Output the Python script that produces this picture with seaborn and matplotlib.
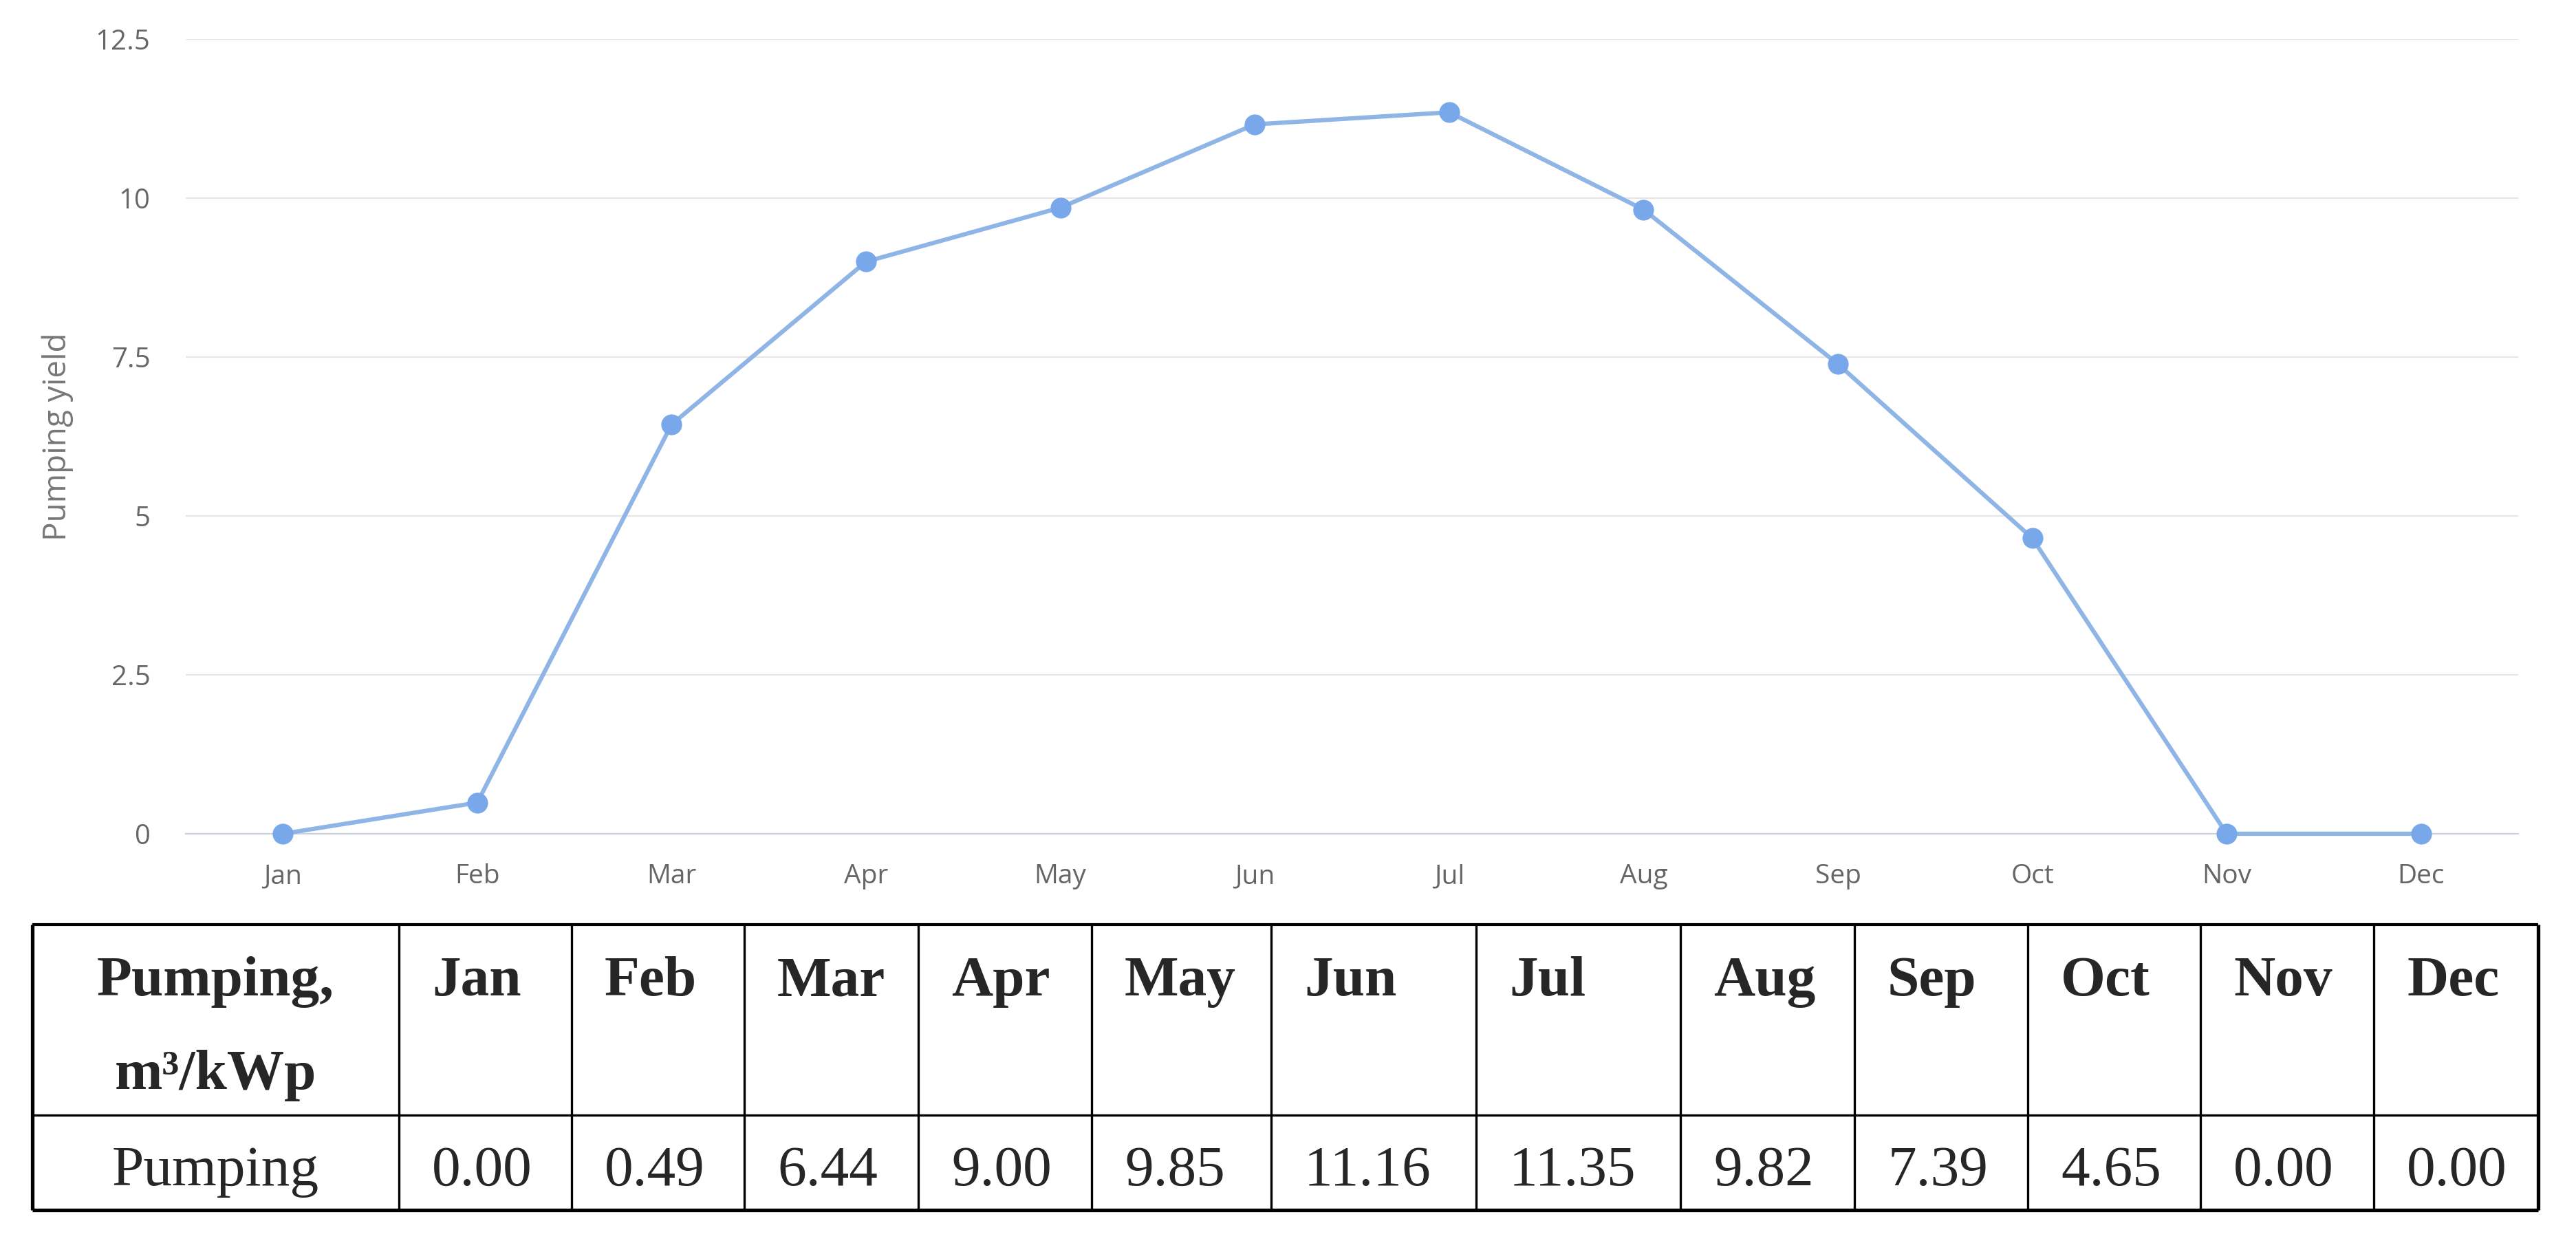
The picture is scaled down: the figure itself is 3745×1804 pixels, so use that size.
import numpy as np
import pandas as pd
import matplotlib
matplotlib.use('Agg')
import matplotlib.pyplot as plt
import seaborn as sns

months = ['Jan', 'Feb', 'Mar', 'Apr', 'May', 'Jun', 'Jul', 'Aug', 'Sep', 'Oct', 'Nov', 'Dec']
pumping = [0.00, 0.49, 6.44, 9.00, 9.85, 11.16, 11.35, 9.82, 7.39, 4.65, 0.00, 0.00]
y_ticks = [0, 2.5, 5, 7.5, 10, 12.5]
y_tick_labels = ['0', '2.5', '5', '7.5', '10', '12.5']
y_title = 'Pumping yield'
header_label = ['Pumping,', 'm³/kWp']
row_label = 'Pumping'

# Layout (figure pixels)
W, H = 3745, 1804
col_edges = [47, 580, 831, 1082, 1335, 1587, 1848, 2146, 2443, 2696, 2948, 3199, 3451, 3690]
tab_top, tab_mid, tab_bot = 1344, 1621, 1759

line_color = '#8fb4e6'
marker_color = '#78a8ea'
grid_color = '#e6e6e6'
axis_color = '#c9d0dc'
text_gray = '#666666'

sns.set_theme(style='white')
plt.rcParams['font.family'] = ['Open Sans', 'DejaVu Sans']

fig = plt.figure(figsize=(W / 100, H / 100), dpi=100)
fig.patch.set_facecolor('white')

# --- Line chart ---
ax = fig.add_axes([270 / W, (H - 1212) / H, (3661 - 270) / W, (1212 - 57) / H])
df = pd.DataFrame({'month': months, 'yield': pumping})
sns.lineplot(data=df, x='month', y='yield', ax=ax, sort=False,
             color=line_color, linewidth=4.5, marker='o', markersize=21,
             markerfacecolor=marker_color, markeredgecolor=marker_color,
             clip_on=False, zorder=5)

ax.set_xlim(-0.5, len(months) - 0.5)
ax.set_ylim(y_ticks[0], y_ticks[-1])
ax.set_yticks(y_ticks)
ax.set_yticklabels(y_tick_labels)
ax.set_xticks(range(len(months)))
ax.set_xticklabels(months)
ax.set_xticks(np.arange(-0.5, len(months), 1), minor=True)

ax.set_axisbelow(True)
ax.yaxis.grid(True, color=grid_color, linewidth=1.6)
ax.xaxis.grid(False)
for side in ['top', 'right', 'left']:
    ax.spines[side].set_visible(False)
ax.spines['bottom'].set_color(axis_color)
ax.spines['bottom'].set_linewidth(1.6)

ax.tick_params(axis='y', length=0, pad=37, labelsize=29, labelcolor=text_gray)
ax.tick_params(axis='x', which='major', length=0, pad=31, labelsize=28, labelcolor=text_gray)
ax.tick_params(axis='x', which='minor', length=27, width=1.6, color=axis_color, direction='out')

ax.set_xlabel('')
ax.set_ylabel(y_title, fontsize=33, color='#777777')
ax.yaxis.set_label_coords(-0.048, 0.5)

# --- Table below ---
tax = fig.add_axes([0, 0, 1, 1])
tax.set_xlim(0, W)
tax.set_ylim(H, 0)
tax.set_facecolor('none')
tax.axis('off')

inner_lw, outer_lw = 2.4, 3.8
tax.hlines(tab_mid, col_edges[0], col_edges[-1], color='black', lw=inner_lw)
tax.vlines(col_edges[1:-1], tab_top, tab_bot, color='black', lw=inner_lw)
tax.hlines([tab_top], col_edges[0], col_edges[-1], color='black', lw=3.0)
tax.hlines([tab_bot], col_edges[0], col_edges[-1], color='black', lw=outer_lw)
tax.vlines([col_edges[0], col_edges[-1]], tab_top, tab_bot, color='black', lw=outer_lw)

serif = ['Liberation Serif', 'DejaVu Serif']
fs = 60
first_c = (col_edges[0] + col_edges[1]) / 2
tax.text(first_c, 1447, header_label[0], ha='center', va='baseline',
         fontsize=fs, fontweight='bold', family=serif)
tax.text(first_c, 1583, header_label[1], ha='center', va='baseline',
         fontsize=fs, fontweight='bold', family=serif)
tax.text(first_c, 1723, row_label, ha='center', va='baseline',
         fontsize=fs, family=serif)

for i, (m, v) in enumerate(zip(months, pumping)):
    x0 = col_edges[i + 1] + 48
    tax.text(x0, 1447, m, ha='left', va='baseline', fontsize=fs,
             fontweight='bold', family=serif)
    tax.text(x0, 1723, f'{v:.2f}', ha='left', va='baseline', fontsize=fs,
             family=serif)

fig.savefig('out.png', dpi=100)
